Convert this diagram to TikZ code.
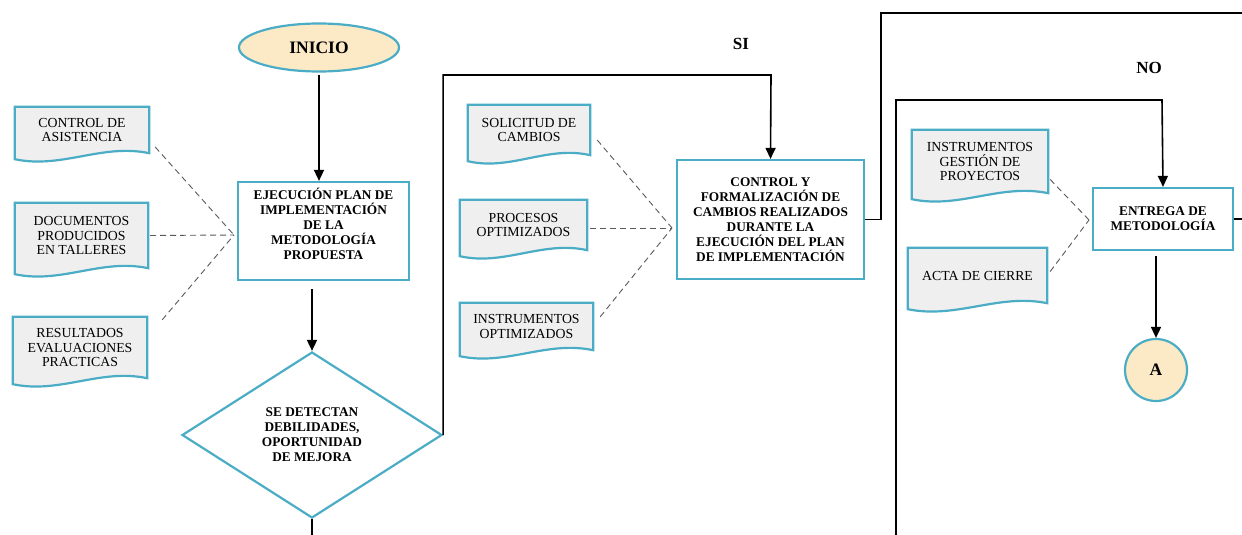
\documentclass[tikz,border=0pt]{standalone}
\usepackage{fontspec}
\setmainfont{Liberation Serif}[Ligatures=TeX]
\usetikzlibrary{shapes.geometric,arrows.meta,calc}
\pgfdeclarelayer{bg}
\pgfsetlayers{bg,main}
\definecolor{cyanb}{RGB}{75,172,198}
\definecolor{docfill}{RGB}{239,239,239}
\definecolor{beige}{RGB}{252,234,198}
\begin{document}
\begin{tikzpicture}[x=1pt,y=-1pt,
  font=\rmfamily,
  docnode/.style={inner sep=0pt, align=center, font=\rmfamily\fontsize{13.8}{14.8}\selectfont},
  docshape/.style={draw=cyanb, line width=2.2pt, fill=docfill},
  procbox/.style={draw=cyanb, line width=2.2pt, fill=white, align=center, inner sep=0pt, font=\rmfamily\bfseries\fontsize{13.3}{15}\selectfont},
  termnode/.style={draw=cyanb, line width=2.2pt, fill=beige, align=center, inner sep=0pt, font=\rmfamily\bfseries\fontsize{17.5}{19}\selectfont},
  conn/.style={line width=1.6pt, black},
  arr/.style={conn, -{Triangle[length=11pt,width=10pt]}},
  dashln/.style={dash pattern=on 6pt off 4pt, line width=0.9pt, black!65},
  lbl/.style={font=\rmfamily\bfseries\fontsize{17}{19}\selectfont}
]
\useasboundingbox (0,0) rectangle (1242,535);

% terminals and process boxes
\node[termnode, ellipse, minimum width=160pt, minimum height=48pt] (inicio) at (319,47.5) {INICIO};
\node[procbox, minimum width=171pt, minimum height=98pt] (b1) at (323.5,231)
  {EJECUCIÓN PLAN DE\\IMPLEMENTACIÓN\\DE LA\\METODOLOGÍA\\PROPUESTA\\\mbox{}};
\node[procbox, diamond, minimum width=260pt, minimum height=166pt] (dia) at (312,435)
  {SE DETECTAN\\DEBILIDADES,\\OPORTUNIDAD\\DE MEJORA};
\node[procbox, minimum width=187pt, minimum height=119pt] (b2) at (770.5,219.5)
  {CONTROL Y\\FORMALIZACIÓN DE\\CAMBIOS REALIZADOS\\DURANTE LA\\EJECUCIÓN DEL PLAN\\DE IMPLEMENTACIÓN};
\node[procbox, minimum width=140pt, minimum height=62pt] (b3) at (1163,219)
  {ENTREGA DE\\METODOLOGÍA};
\node[termnode, circle, minimum size=62pt] (A) at (1156,370) {A};

% documents
\node[docnode, minimum width=134pt, minimum height=46pt] (d1) at (82,130) {CONTROL DE\\ASISTENCIA};
\node[docnode, minimum width=133pt, minimum height=65pt] (d2) at (81.5,235.5) {DOCUMENTOS\\PRODUCIDOS\\EN TALLERES};
\node[docnode, minimum width=134pt, minimum height=61pt] (d3) at (80,347.5) {RESULTADOS\\EVALUACIONES\\PRACTICAS};
\node[docnode, minimum width=122pt, minimum height=50pt] (m1) at (529,130) {SOLICITUD DE\\CAMBIOS};
\node[docnode, minimum width=127pt, minimum height=50pt] (m2) at (523.5,225) {PROCESOS\\OPTIMIZADOS};
\node[docnode, minimum width=133pt, minimum height=47pt] (m3) at (526.5,326.5) {INSTRUMENTOS\\OPTIMIZADOS};
\node[docnode, minimum width=136pt, minimum height=63pt] (r1) at (980,161.5) {INSTRUMENTOS\\GESTIÓN DE\\PROYECTOS};
\node[docnode, minimum width=139pt, minimum height=55pt] (r2) at (977.5,275.5) {ACTA DE CIERRE};

\begin{pgfonlayer}{bg}
\foreach \n in {d1,d2,d3,m1,m2,m3,r1,r2}{
  \draw[docshape] (\n.north west) -- (\n.north east) -- (\n.south east)
    .. controls ($(\n.south west)!0.65!(\n.south east)+(0,-10)$) and ($(\n.south west)!0.35!(\n.south east)+(0,16)$) .. ($(\n.south west)+(0,6)$) -- cycle;
}
\end{pgfonlayer}

% labels
\node[lbl] (si) at (741,44) {SI};
\node[lbl] (no) at (1149,68) {NO};

% helper coordinates
\coordinate (c1) at (234,235);
\coordinate (c2) at (672,228);
\coordinate (c3) at (1089,220);
\coordinate (sitop) at (771,75);
\coordinate (toprt) at (1242,13);
\coordinate (nobot) at (896,535);
\coordinate (notop) at (1162,100);
\coordinate (rtedge) at (1242,219);
\coordinate (diabot) at (312,535);

% main flow
\draw[arr, shorten <=2pt] (inicio.south) -- (inicio.south |- b1.north);
\draw[arr, shorten <=8pt] (dia.north |- b1.south) -- (dia.north);
\draw[conn] (dia.south) -- (diabot);
\draw[arr] (dia.east) |- (sitop) -- (b2.north);
\draw[conn] (b2.east) -- ++(16,0) |- (toprt);
\draw[arr] (nobot) |- (notop) -- (b3.north);
\draw[conn] (b3.east) -- (rtedge);
\draw[arr, shorten <=5pt] (A.north |- b3.south) -- (A.north);

% dashed associations
\draw[dashln] ($(d1.east)+(6,17)$) -- (c1);
\draw[dashln] ($(d2.east)+(2,0)$) -- (c1);
\draw[dashln] ($(d3.north east)+(15,3)$) -- (c1);
\draw[dashln] ($(m1.east)+(7,10)$) -- (c2);
\draw[dashln] ($(m2.east)+(3,3)$) -- (c2);
\draw[dashln] ($(m3.north east)+(7,14)$) -- (c2);
\draw[dashln] ($(r1.east)+(2,18)$) -- (c3);
\draw[dashln] ($(r2.east)+(3,-4)$) -- (c3);
\end{tikzpicture}
\end{document}
